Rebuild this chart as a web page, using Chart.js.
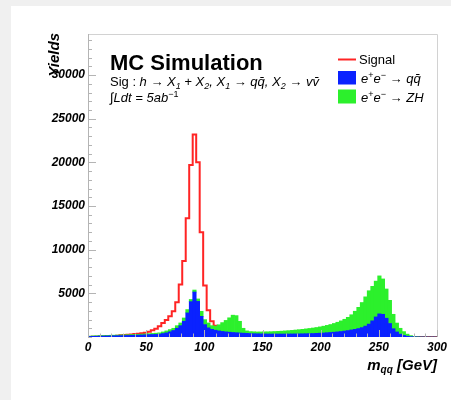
<!DOCTYPE html>
<html>
<head>
<meta charset="utf-8">
<script src="https://cdn.jsdelivr.net/npm/chart.js@4.4.0/dist/chart.umd.min.js"></script>
<style>
	body { margin: 0; background: #f0f0f0; }
	#panel { position: absolute; left: 11px; top: 6px; right: 0; bottom: 0; background: #fff; }
	canvas { position: absolute; left: 0; top: 0; }
</style>
</head>
<body>
<div id="panel"></div>
<canvas id="mqq" width="451" height="400"></canvas>
<script>
// m_qq histograms, 100 bins of 3 GeV from 0 to 300
var binWidth = 3;

var signal = [
	10, 20, 30, 45, 60, 80, 100, 125, 150, 190,
	230, 260, 290, 330, 380, 430, 500, 600, 760, 950,
	1220, 1600, 1950, 2370, 2940, 3970, 6000, 8700, 13600, 19700,
	23200, 20000, 12000, 5900, 3050, 1800, 1300, 1000, 750, 550,
	400, 300, 220, 160, 120, 90, 70, 55, 45, 40,
	38, 36, 34, 32, 30, 29, 28, 27, 26, 25,
	24, 24, 23, 23, 22, 22, 21, 21, 20, 20,
	20, 19, 19, 18, 18, 18, 17, 17, 16, 16,
	16, 15, 15, 15, 14, 14, 14, 13, 13, 13,
	12, 12, 12, 11, 11, 11, 10, 10, 10, 10
];

var bkgQQ = [
	60, 80, 90, 100, 110, 120, 130, 140, 150, 160,
	170, 180, 190, 200, 215, 230, 250, 270, 290, 300,
	320, 400, 480, 600, 750, 1000, 1300, 1800, 2760, 4050,
	5150, 4080, 2370, 1420, 1050, 880, 780, 700, 640, 590,
	550, 520, 490, 460, 440, 420, 400, 380, 370, 360,
	350, 345, 340, 340, 340, 340, 340, 345, 350, 355,
	360, 370, 380, 390, 400, 420, 440, 460, 490, 520,
	550, 590, 630, 680, 740, 810, 880, 970, 1080, 1250,
	1480, 1850, 2300, 2650, 2600, 2150, 1550, 950, 580, 330,
	180, 90, 45, 20, 10, 5, 0, 0, 0, 0
];

var bkgZH = [
	40, 50, 50, 60, 60, 60, 70, 70, 70, 80,
	80, 80, 90, 90, 95, 100, 100, 110, 120, 140,
	160, 180, 220, 250, 250, 300, 310, 380, 380, 250,
	230, 280, 570, 570, 560, 420, 470, 700, 1010, 1310,
	1650, 1980, 1960, 1340, 560, 280, 220, 220, 210, 220,
	240, 255, 270, 290, 310, 330, 360, 385, 410, 445,
	480, 510, 550, 590, 630, 670, 720, 780, 840, 910,
	1000, 1100, 1220, 1350, 1510, 1740, 2070, 2430, 2870, 3350,
	3820, 3950, 4100, 4350, 4050, 3350, 2650, 1650, 1020, 670,
	440, 240, 115, 50, 20, 5, 0, 0, 0, 0
];

var xRange = [0, 300];
var yMax = 34700;
var xTickLabels = [0, 50, 100, 150, 200, 250, 300];
var yTickLabels = [5000, 10000, 15000, 20000, 25000, 30000];
var xMinor = 10, yMinor = 1000;

var colSignal = '#ff2424';
var colQQ = '#0a22ff';
var colZH = '#2cf02c';

var FONT = '"Liberation Sans", Arial, sans-serif';

// points for the bars (bin centres) and for the step outline (bin edges)
function barPoints(values) {
	return values.map(function (v, i) {
		return { x: i * binWidth + binWidth / 2, y: v };
	});
}
function stepPoints(values) {
	var pts = values.map(function (v, i) {
		return { x: i * binWidth, y: v };
	});
	pts.push({ x: values.length * binWidth, y: values[values.length - 1] });
	return pts;
}

function drawRuns(ctx, x, y, runs) {
	runs.forEach(function (r) {
		ctx.font = r[1];
		ctx.fillText(r[0], x, y + (r[2] || 0));
		x += ctx.measureText(r[0]).width;
	});
	return x;
}
function runsWidth(ctx, runs) {
	var w = 0;
	runs.forEach(function (r) {
		ctx.font = r[1];
		w += ctx.measureText(r[0]).width;
	});
	return w;
}

var rm13 = '13px ' + FONT;
var it13 = 'italic 13px ' + FONT;
var it9 = 'italic 9px ' + FONT;
var rm9 = '9px ' + FONT;

var decoPlugin = {
	id: 'rootDeco',
	afterDatasetsDraw: function (chart) {
		var ctx = chart.ctx;
		var a = chart.chartArea;
		var xs = chart.scales.x, ys = chart.scales.y;
		ctx.save();
		// frame
		ctx.lineWidth = 1;
		ctx.strokeStyle = '#d2d2d2';
		ctx.beginPath();
		ctx.moveTo(a.left, a.top + 0.5);
		ctx.lineTo(a.right + 0.5, a.top + 0.5);
		ctx.lineTo(a.right + 0.5, a.bottom);
		ctx.stroke();
		ctx.strokeStyle = '#b4b4b4';
		ctx.beginPath();
		ctx.moveTo(a.left + 0.5, a.top);
		ctx.lineTo(a.left + 0.5, a.bottom);
		ctx.stroke();
		// ticks, drawn inside the frame
		ctx.beginPath();
		var v, p, len;
		for (v = 0; v <= yMax; v += yMinor) {
			p = Math.round(ys.getPixelForValue(v)) + 0.5;
			len = (yTickLabels.indexOf(v) >= 0) ? 8 : 4;
			ctx.moveTo(a.left, p);
			ctx.lineTo(a.left + len, p);
		}
		for (v = xRange[0]; v <= xRange[1]; v += xMinor) {
			p = Math.round(xs.getPixelForValue(v)) + 0.5;
			len = (xTickLabels.indexOf(v) >= 0) ? 7 : 3.5;
			ctx.moveTo(p, a.bottom);
			ctx.lineTo(p, a.bottom - len);
		}
		ctx.stroke();
		ctx.restore();
	},
	afterDraw: function (chart) {
		var ctx = chart.ctx;
		ctx.save();
		ctx.fillStyle = '#000';
		ctx.textAlign = 'left';
		ctx.textBaseline = 'alphabetic';

		// axis titles
		ctx.save();
		ctx.font = 'italic bold 15px ' + FONT;
		ctx.translate(59, 33);
		ctx.rotate(-Math.PI / 2);
		ctx.textAlign = 'right';
		ctx.fillText('Yields', 0, 0);
		ctx.restore();

		var xTitle = [
			['m', 'italic bold 15px ' + FONT],
			['qq', 'italic bold 10px ' + FONT, 3],
			[' [GeV]', 'italic bold 15px ' + FONT]
		];
		drawRuns(ctx, 437 - runsWidth(ctx, xTitle), 369.5, xTitle);

		// header text
		ctx.font = 'bold 22px ' + FONT;
		ctx.fillText('MC Simulation', 110, 69.5);
		drawRuns(ctx, 110, 86, [
			['Sig : ', rm13],
			['h \u2192 X', it13], ['1', it9, 3],
			[' + X', it13], ['2', it9, 3],
			[', X', it13], ['1', it9, 3],
			[' \u2192 qq\u0304, X', it13], ['2', it9, 3],
			[' \u2192 vv\u0304', it13]
		]);
		drawRuns(ctx, 110, 102, [
			['\u222B', rm13],
			['Ldt = 5ab', it13],
			['\u22121', rm9, -5]
		]);

		// legend
		ctx.strokeStyle = colSignal;
		ctx.lineWidth = 2;
		ctx.beginPath();
		ctx.moveTo(338, 59.5);
		ctx.lineTo(356, 59.5);
		ctx.stroke();
		ctx.fillStyle = colQQ;
		ctx.fillRect(338, 71, 18, 13.5);
		ctx.fillStyle = colZH;
		ctx.fillRect(338, 89.5, 18, 14);
		ctx.fillStyle = '#000';
		ctx.font = rm13;
		ctx.fillText('Signal', 359, 63.5);
		drawRuns(ctx, 361, 83, [
			['e', it13], ['+', rm9, -5], ['e', it13], ['\u2212', rm9, -5],
			[' \u2192 qq\u0304', it13]
		]);
		drawRuns(ctx, 361, 101.5, [
			['e', it13], ['+', rm9, -5], ['e', it13], ['\u2212', rm9, -5],
			[' \u2192 ZH', it13]
		]);
		ctx.restore();
	}
};

var tickFont = { family: FONT, size: 12, weight: 'bold', style: 'italic' };

function setTicks(values) {
	return function (scale) {
		scale.ticks = values.map(function (v) { return { value: v }; });
	};
}

new Chart(document.getElementById('mqq'), {
	type: 'bar',
	data: {
		datasets: [{
			type: 'line',
			label: 'Signal',
			data: stepPoints(signal),
			stepped: 'before',
			borderColor: colSignal,
			borderWidth: 2,
			pointRadius: 0,
			fill: false,
			stack: 'sig',
			order: 1
		}, {
			label: 'e+e- -> qq',
			data: barPoints(bkgQQ),
			backgroundColor: colQQ,
			borderWidth: 0,
			barPercentage: 1,
			categoryPercentage: 1,
			stack: 'bkg',
			order: 0
		}, {
			label: 'e+e- -> ZH',
			data: barPoints(bkgZH),
			backgroundColor: colZH,
			borderWidth: 0,
			barPercentage: 1,
			categoryPercentage: 1,
			stack: 'bkg',
			order: 0
		}]
	},
	options: {
		responsive: false,
		animation: false,
		layout: { padding: { left: 0, top: 34, right: 14, bottom: 0 } },
		plugins: {
			legend: { display: false },
			tooltip: { enabled: false }
		},
		scales: {
			x: {
				type: 'linear',
				min: xRange[0],
				max: xRange[1],
				offset: false,
				stacked: true,
				grid: { display: false, drawTicks: false },
				border: { display: false },
				ticks: {
					padding: 3,
					color: '#000',
					font: tickFont,
					maxRotation: 0,
					autoSkip: false,
					callback: function (v) { return String(v); }
				},
				afterBuildTicks: setTicks(xTickLabels),
				afterFit: function (s) { s.height = 63; }
			},
			y: {
				min: 0,
				max: yMax,
				stacked: true,
				grid: { display: false, drawTicks: false },
				border: { display: false },
				ticks: {
					padding: 3,
					color: '#000',
					font: tickFont,
					autoSkip: false,
					callback: function (v) { return String(v); }
				},
				afterBuildTicks: setTicks(yTickLabels),
				afterFit: function (s) { s.width = 88; }
			}
		}
	},
	plugins: [decoPlugin]
});
</script>
</body>
</html>
